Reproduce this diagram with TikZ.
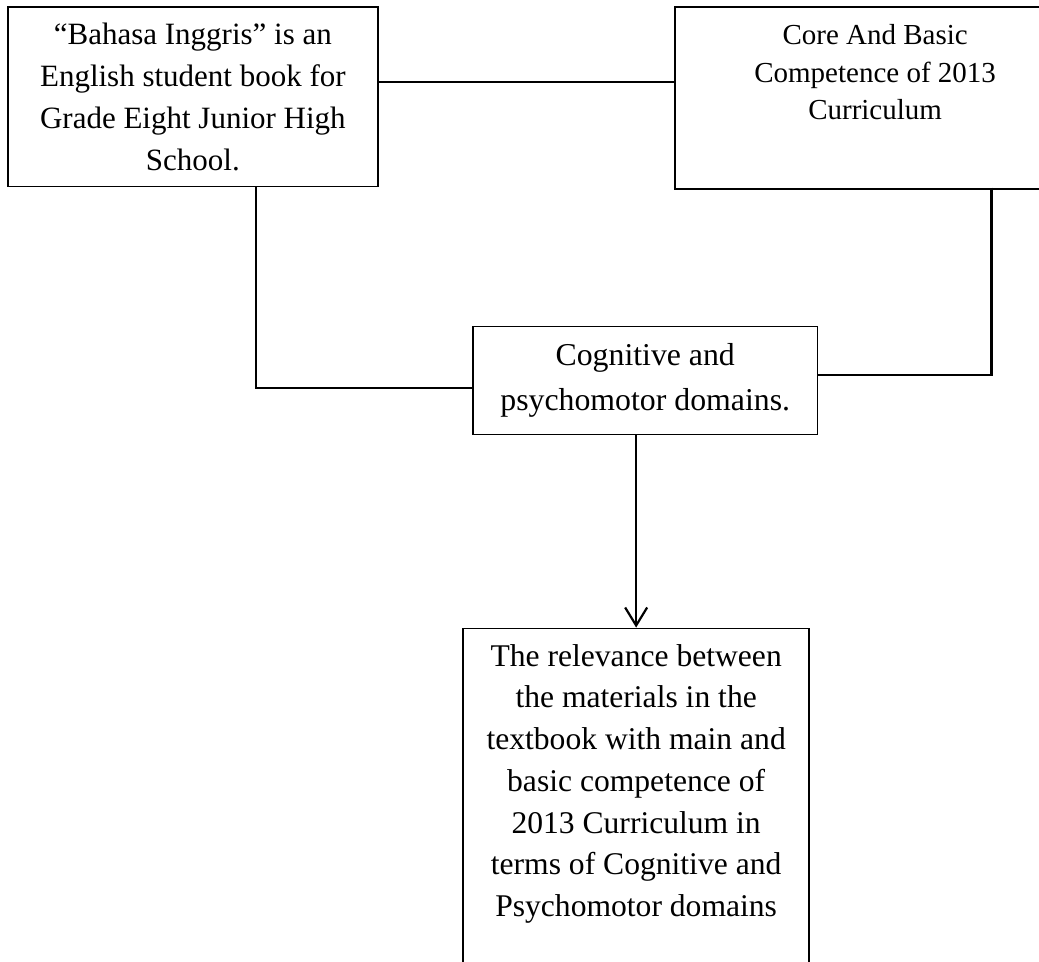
\documentclass[tikz,border=0pt]{standalone}
\usepackage{fontspec}
\setmainfont{Liberation Serif}
\usepackage{tikz}
\usetikzlibrary{arrows.meta, positioning, calc}
\tikzset{
  block/.style={rectangle, draw=black, fill=white, align=center,
    inner sep=0pt, line width=0.7pt},
  line/.style={line width=1.1pt, color=black},
  arrow/.style={-{Straight Barb[length=9pt, width=11pt]}, line width=1.1pt, color=black}
}

\begin{document}
\begin{tikzpicture}
  \useasboundingbox (0,0) rectangle (18.26,16.90);

  % Top boxes
  \node[block, minimum width=6.50cm, minimum height=3.16cm,
    font=\fontsize{15.5}{21}\selectfont] (book) at (3.39,15.20)
    {“Bahasa Inggris” is an\\ English student book for\\ Grade Eight Junior High\\ School.};
  \node[block, minimum width=7.03cm, minimum height=3.20cm,
    font=\fontsize{14.5}{18.75}\selectfont] (core) at (15.38,15.18)
    {Core And Basic\\ Competence of 2013\\ Curriculum\\[6.75pt] \mbox{}};

  % Middle box
  \node[block, minimum width=6.06cm, minimum height=1.90cm,
    font=\fontsize{15.9}{22.5}\selectfont] (domain) at (11.34,10.21)
    {Cognitive and\\ psychomotor domains.};

  % Bottom box, runs off the page
  \node[block, anchor=north, minimum width=6.08cm, inner ysep=8pt,
    font=\fontsize{15.8}{20.85}\selectfont] (relevance) at (11.18,5.87)
    {The relevance between\\ the materials in the\\ textbook with main and\\ basic competence of\\ 2013 Curriculum in\\ terms of Cognitive and\\ Psychomotor domains\\ \mbox{}\\ \mbox{}};

  % Connectors
  \coordinate (bookR) at ($(book.north east)!0.417!(book.south east)$);
  \draw[line] (bookR) -- (bookR -| core.west);
  \coordinate (bookS) at ($(book.south west)!0.67!(book.south east)$);
  \coordinate (domW) at ($(domain.north west)!0.565!(domain.south west)$);
  \draw[line] (bookS) |- (domW);
  \coordinate (coreS) at ($(core.south west)!0.79!(core.south east)$);
  \coordinate (domE) at ($(domain.north east)!0.45!(domain.south east)$);
  \draw[line] ([yshift=1pt]coreS) |- (domE);
  \draw[arrow] (domain.south -| relevance.north) -- (relevance.north);
\end{tikzpicture}
\end{document}
